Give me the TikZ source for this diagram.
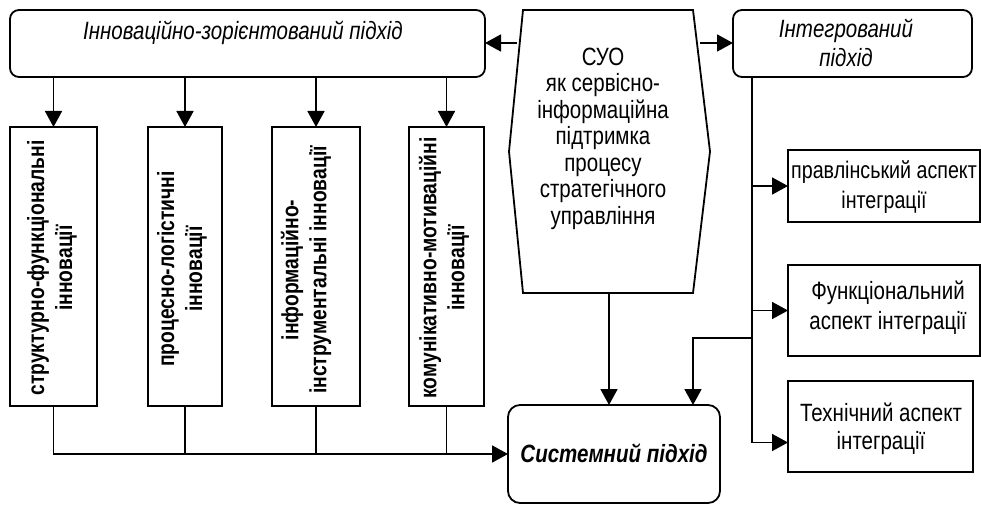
\documentclass[tikz,border=0pt]{standalone}
\usepackage{fontspec}
\setmainfont{Liberation Sans}[FakeStretch=0.82]
\usetikzlibrary{arrows.meta,calc}
\newcommand\dfs{\fontsize{25}{27}\selectfont}
\begin{document}
\begin{tikzpicture}[x=1pt,y=-1pt,
  box/.style={draw,line width=1.8pt,inner sep=0pt,outer sep=0pt},
  rbox/.style={box,rounded corners=9pt},
  conn/.style={line width=1.7pt},
  arr/.style={conn,-{Triangle[length=16pt,width=17pt]}},
  txt/.style={font=\dfs,inner sep=0pt,align=center},
  itxt/.style={txt,font=\dfs\itshape},
  vtxt/.style={txt,font=\fontsize{23.5}{28}\selectfont\bfseries,rotate=90},
]
\useasboundingbox (0,0) rectangle (981,505);

% top boxes
\node[rbox,minimum width=475,minimum height=67] (inn) at (247.5,43.5) {};
\node[itxt] (innT) at (243,33) {Інноваційно-зорієнтований підхід};
\node[rbox,minimum width=239,minimum height=67] (int) at (852.5,43.5) {};
\node[itxt,font=\fontsize{25}{29}\selectfont\itshape] (intT) at (846,42.5) {Інтегрований\\підхід};

% hexagon
\node[inner sep=0pt,outer sep=0pt,minimum width=170,minimum height=283] (hex) at (608,151.5) {};
\draw[line width=1.8pt] (hex.north west) -- (hex.north east) -- ($(hex.east)+(17,0)$)
  -- (hex.south east) -- (hex.south west) -- ($(hex.west)+(-14,0)$) -- cycle;
\node[txt,font=\fontsize{25}{26.5}\selectfont] (hexT) at (603,138.5)
  {СУО\\як сервісно-\\інформаційна\\підтримка\\процесу\\стратегічного\\управління};

% vertical boxes
\node[box,minimum width=87,minimum height=279] (b1) at (53.5,266.5) {};
\node[box,minimum width=74,minimum height=279] (b2) at (185,266.5) {};
\node[box,minimum width=88,minimum height=279] (b3) at (316,266.5) {};
\node[box,minimum width=75,minimum height=279] (b4) at (446.5,266.5) {};
\node[vtxt] (t1) at (52,268) {структурно-функціональні\\інновації};
\node[vtxt] (t2) at (182,269) {процесно-логістичні\\інновації};
\node[vtxt] (t3) at (306,270) {інформаційно-\\інструментальні інновації};
\node[vtxt] (t4) at (444,268) {комунікативно-мотиваційні\\інновації};

% system box
\node[box,rounded corners=12pt,minimum width=212,minimum height=98] (sys) at (614,454) {};
\node[txt,font=\dfs\bfseries\itshape] (sysT) at (614,453) {Системний підхід};

% right boxes
\node[box,minimum width=192,minimum height=72] (prav) at (884,186) {};
\node[txt,font=\fontsize{24}{30}\selectfont] (pravT) at (884,187) {правлінський аспект\\інтеграції};
\node[box,minimum width=192,minimum height=91] (func) at (884,310.5) {};
\node[txt,font=\fontsize{25}{30}\selectfont] (funcT) at (888,308) {Функціональний\\аспект інтеграції};
\node[box,minimum width=185,minimum height=91] (tech) at (880.5,426.5) {};
\node[txt,font=\fontsize{25}{28}\selectfont] (techT) at (881,428.5) {Технічний аспект\\інтеграції};

% connectors from innovation box
\foreach \b in {b1,b2,b3,b4}{
  \draw[arr] (\b.north |- inn.south) -- (\b.north);
}
% bus to system
\draw[arr] (b1.south) |- (sys.west);
\foreach \b in {b2,b3,b4}{
  \draw[conn] (\b.south) -- (\b.south |- sys.west);
}

% hexagon arrows
\coordinate (hexLa) at (517,43);
\coordinate (hexRa) at (700,43);
\draw[arr] (hexLa) -- (inn.east |- hexLa);
\draw[arr] (hexRa) -- (int.west |- hexRa);
\coordinate (hexB) at (609,293);
\draw[arr] (hexB) -- (hexB |- sys.north);

% integrated spine
\coordinate (spine) at (752,77);
\draw[arr] (spine) |- ([yshift=-16pt]tech.west);
\draw[arr] (spine |- prav.west) -- (prav.west);
\draw[arr] (spine |- func.west) -- (func.west);
\coordinate (fork) at (752,338);
\draw[arr] (fork) -| ($(sys.north east)+(-27,0)$);
\end{tikzpicture}
\end{document}
